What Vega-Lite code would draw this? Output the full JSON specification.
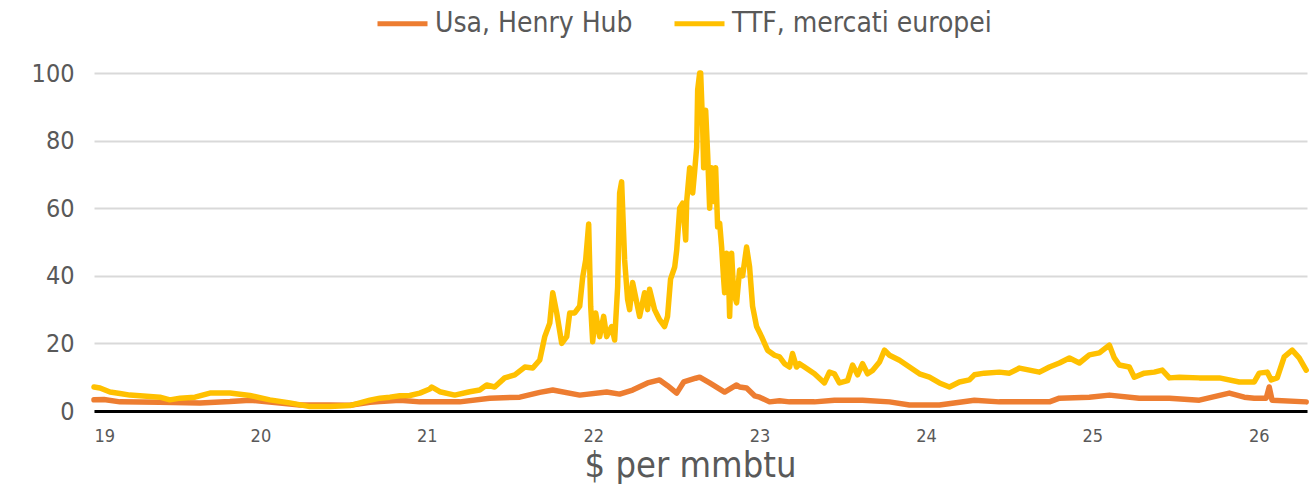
{
  "$schema": "https://vega.github.io/schema/vega-lite/v6.json",
  "width": 1213,
  "height": 338,
  "autosize": {"type": "none"},
  "padding": {"left": 94, "top": 73, "right": 2, "bottom": 79},
  "background": "white",
  "config": {"view": {"stroke": null}, "font": "DejaVu Sans Condensed, DejaVu Sans"},
  "data": {"values": [
    {"year": 19.000, "value": 3.3, "series": "Usa, Henry Hub"},
    {"year": 19.060, "value": 3.4, "series": "Usa, Henry Hub"},
    {"year": 19.156, "value": 2.7, "series": "Usa, Henry Hub"},
    {"year": 19.396, "value": 2.6, "series": "Usa, Henry Hub"},
    {"year": 19.637, "value": 2.4, "series": "Usa, Henry Hub"},
    {"year": 19.817, "value": 2.8, "series": "Usa, Henry Hub"},
    {"year": 19.937, "value": 3.2, "series": "Usa, Henry Hub"},
    {"year": 20.117, "value": 2.4, "series": "Usa, Henry Hub"},
    {"year": 20.237, "value": 1.8, "series": "Usa, Henry Hub"},
    {"year": 20.417, "value": 1.8, "series": "Usa, Henry Hub"},
    {"year": 20.538, "value": 1.7, "series": "Usa, Henry Hub"},
    {"year": 20.658, "value": 2.6, "series": "Usa, Henry Hub"},
    {"year": 20.718, "value": 2.8, "series": "Usa, Henry Hub"},
    {"year": 20.838, "value": 3.2, "series": "Usa, Henry Hub"},
    {"year": 20.958, "value": 2.7, "series": "Usa, Henry Hub"},
    {"year": 21.198, "value": 2.7, "series": "Usa, Henry Hub"},
    {"year": 21.378, "value": 3.8, "series": "Usa, Henry Hub"},
    {"year": 21.559, "value": 4.1, "series": "Usa, Henry Hub"},
    {"year": 21.679, "value": 5.5, "series": "Usa, Henry Hub"},
    {"year": 21.757, "value": 6.2, "series": "Usa, Henry Hub"},
    {"year": 21.919, "value": 4.7, "series": "Usa, Henry Hub"},
    {"year": 22.081, "value": 5.6, "series": "Usa, Henry Hub"},
    {"year": 22.159, "value": 5.0, "series": "Usa, Henry Hub"},
    {"year": 22.237, "value": 6.2, "series": "Usa, Henry Hub"},
    {"year": 22.327, "value": 8.3, "series": "Usa, Henry Hub"},
    {"year": 22.399, "value": 9.2, "series": "Usa, Henry Hub"},
    {"year": 22.447, "value": 7.5, "series": "Usa, Henry Hub"},
    {"year": 22.502, "value": 5.3, "series": "Usa, Henry Hub"},
    {"year": 22.544, "value": 8.6, "series": "Usa, Henry Hub"},
    {"year": 22.616, "value": 9.7, "series": "Usa, Henry Hub"},
    {"year": 22.640, "value": 10.0, "series": "Usa, Henry Hub"},
    {"year": 22.700, "value": 8.3, "series": "Usa, Henry Hub"},
    {"year": 22.790, "value": 5.6, "series": "Usa, Henry Hub"},
    {"year": 22.862, "value": 7.7, "series": "Usa, Henry Hub"},
    {"year": 22.880, "value": 7.1, "series": "Usa, Henry Hub"},
    {"year": 22.922, "value": 6.8, "series": "Usa, Henry Hub"},
    {"year": 22.970, "value": 4.5, "series": "Usa, Henry Hub"},
    {"year": 23.000, "value": 4.1, "series": "Usa, Henry Hub"},
    {"year": 23.060, "value": 2.7, "series": "Usa, Henry Hub"},
    {"year": 23.120, "value": 3.0, "series": "Usa, Henry Hub"},
    {"year": 23.180, "value": 2.7, "series": "Usa, Henry Hub"},
    {"year": 23.330, "value": 2.7, "series": "Usa, Henry Hub"},
    {"year": 23.450, "value": 3.2, "series": "Usa, Henry Hub"},
    {"year": 23.619, "value": 3.2, "series": "Usa, Henry Hub"},
    {"year": 23.781, "value": 2.7, "series": "Usa, Henry Hub"},
    {"year": 23.901, "value": 1.8, "series": "Usa, Henry Hub"},
    {"year": 24.081, "value": 1.8, "series": "Usa, Henry Hub"},
    {"year": 24.291, "value": 3.2, "series": "Usa, Henry Hub"},
    {"year": 24.441, "value": 2.7, "series": "Usa, Henry Hub"},
    {"year": 24.742, "value": 2.7, "series": "Usa, Henry Hub"},
    {"year": 24.802, "value": 3.8, "series": "Usa, Henry Hub"},
    {"year": 24.982, "value": 4.1, "series": "Usa, Henry Hub"},
    {"year": 25.102, "value": 4.7, "series": "Usa, Henry Hub"},
    {"year": 25.282, "value": 3.8, "series": "Usa, Henry Hub"},
    {"year": 25.463, "value": 3.8, "series": "Usa, Henry Hub"},
    {"year": 25.643, "value": 3.2, "series": "Usa, Henry Hub"},
    {"year": 25.823, "value": 5.3, "series": "Usa, Henry Hub"},
    {"year": 25.913, "value": 4.1, "series": "Usa, Henry Hub"},
    {"year": 25.973, "value": 3.8, "series": "Usa, Henry Hub"},
    {"year": 26.045, "value": 3.8, "series": "Usa, Henry Hub"},
    {"year": 26.063, "value": 7.1, "series": "Usa, Henry Hub"},
    {"year": 26.080, "value": 3.2, "series": "Usa, Henry Hub"},
    {"year": 26.285, "value": 2.7, "series": "Usa, Henry Hub"},

    {"year": 19.000, "value": 7.1, "series": "TTF, mercati europei"},
    {"year": 19.036, "value": 6.8, "series": "TTF, mercati europei"},
    {"year": 19.096, "value": 5.6, "series": "TTF, mercati europei"},
    {"year": 19.156, "value": 5.2, "series": "TTF, mercati europei"},
    {"year": 19.216, "value": 4.7, "series": "TTF, mercati europei"},
    {"year": 19.276, "value": 4.5, "series": "TTF, mercati europei"},
    {"year": 19.396, "value": 4.1, "series": "TTF, mercati europei"},
    {"year": 19.456, "value": 3.3, "series": "TTF, mercati europei"},
    {"year": 19.517, "value": 3.8, "series": "TTF, mercati europei"},
    {"year": 19.607, "value": 4.1, "series": "TTF, mercati europei"},
    {"year": 19.697, "value": 5.3, "series": "TTF, mercati europei"},
    {"year": 19.817, "value": 5.3, "series": "TTF, mercati europei"},
    {"year": 19.937, "value": 4.6, "series": "TTF, mercati europei"},
    {"year": 20.057, "value": 3.3, "series": "TTF, mercati europei"},
    {"year": 20.177, "value": 2.4, "series": "TTF, mercati europei"},
    {"year": 20.297, "value": 1.3, "series": "TTF, mercati europei"},
    {"year": 20.417, "value": 1.3, "series": "TTF, mercati europei"},
    {"year": 20.538, "value": 1.6, "series": "TTF, mercati europei"},
    {"year": 20.658, "value": 3.2, "series": "TTF, mercati europei"},
    {"year": 20.718, "value": 3.8, "series": "TTF, mercati europei"},
    {"year": 20.778, "value": 4.1, "series": "TTF, mercati europei"},
    {"year": 20.838, "value": 4.5, "series": "TTF, mercati europei"},
    {"year": 20.898, "value": 4.6, "series": "TTF, mercati europei"},
    {"year": 20.958, "value": 5.3, "series": "TTF, mercati europei"},
    {"year": 21.018, "value": 6.5, "series": "TTF, mercati europei"},
    {"year": 21.030, "value": 7.1, "series": "TTF, mercati europei"},
    {"year": 21.078, "value": 5.7, "series": "TTF, mercati europei"},
    {"year": 21.168, "value": 4.7, "series": "TTF, mercati europei"},
    {"year": 21.258, "value": 5.7, "series": "TTF, mercati europei"},
    {"year": 21.318, "value": 6.2, "series": "TTF, mercati europei"},
    {"year": 21.360, "value": 7.7, "series": "TTF, mercati europei"},
    {"year": 21.408, "value": 7.1, "series": "TTF, mercati europei"},
    {"year": 21.468, "value": 9.8, "series": "TTF, mercati europei"},
    {"year": 21.529, "value": 10.7, "series": "TTF, mercati europei"},
    {"year": 21.589, "value": 13, "series": "TTF, mercati europei"},
    {"year": 21.637, "value": 12.7, "series": "TTF, mercati europei"},
    {"year": 21.679, "value": 15.1, "series": "TTF, mercati europei"},
    {"year": 21.709, "value": 22, "series": "TTF, mercati europei"},
    {"year": 21.739, "value": 26, "series": "TTF, mercati europei"},
    {"year": 21.757, "value": 35, "series": "TTF, mercati europei"},
    {"year": 21.781, "value": 29, "series": "TTF, mercati europei"},
    {"year": 21.811, "value": 20, "series": "TTF, mercati europei"},
    {"year": 21.841, "value": 22, "series": "TTF, mercati europei"},
    {"year": 21.859, "value": 29, "series": "TTF, mercati europei"},
    {"year": 21.889, "value": 29, "series": "TTF, mercati europei"},
    {"year": 21.919, "value": 31, "series": "TTF, mercati europei"},
    {"year": 21.937, "value": 39.6, "series": "TTF, mercati europei"},
    {"year": 21.955, "value": 44.7, "series": "TTF, mercati europei"},
    {"year": 21.973, "value": 55.3, "series": "TTF, mercati europei"},
    {"year": 21.985, "value": 31, "series": "TTF, mercati europei"},
    {"year": 21.997, "value": 20.5, "series": "TTF, mercati europei"},
    {"year": 22.015, "value": 29, "series": "TTF, mercati europei"},
    {"year": 22.039, "value": 22, "series": "TTF, mercati europei"},
    {"year": 22.063, "value": 28, "series": "TTF, mercati europei"},
    {"year": 22.081, "value": 22, "series": "TTF, mercati europei"},
    {"year": 22.111, "value": 25, "series": "TTF, mercati europei"},
    {"year": 22.129, "value": 21, "series": "TTF, mercati europei"},
    {"year": 22.147, "value": 36.7, "series": "TTF, mercati europei"},
    {"year": 22.159, "value": 64.5, "series": "TTF, mercati europei"},
    {"year": 22.171, "value": 67.8, "series": "TTF, mercati europei"},
    {"year": 22.189, "value": 44.7, "series": "TTF, mercati europei"},
    {"year": 22.207, "value": 33, "series": "TTF, mercati europei"},
    {"year": 22.219, "value": 30, "series": "TTF, mercati europei"},
    {"year": 22.237, "value": 38, "series": "TTF, mercati europei"},
    {"year": 22.279, "value": 28, "series": "TTF, mercati europei"},
    {"year": 22.309, "value": 35, "series": "TTF, mercati europei"},
    {"year": 22.327, "value": 30, "series": "TTF, mercati europei"},
    {"year": 22.339, "value": 36, "series": "TTF, mercati europei"},
    {"year": 22.369, "value": 30, "series": "TTF, mercati europei"},
    {"year": 22.399, "value": 27, "series": "TTF, mercati europei"},
    {"year": 22.429, "value": 25, "series": "TTF, mercati europei"},
    {"year": 22.447, "value": 28, "series": "TTF, mercati europei"},
    {"year": 22.465, "value": 39, "series": "TTF, mercati europei"},
    {"year": 22.490, "value": 42.6, "series": "TTF, mercati europei"},
    {"year": 22.502, "value": 47.6, "series": "TTF, mercati europei"},
    {"year": 22.520, "value": 60, "series": "TTF, mercati europei"},
    {"year": 22.538, "value": 61.5, "series": "TTF, mercati europei"},
    {"year": 22.556, "value": 50.6, "series": "TTF, mercati europei"},
    {"year": 22.562, "value": 62, "series": "TTF, mercati europei"},
    {"year": 22.580, "value": 72, "series": "TTF, mercati europei"},
    {"year": 22.598, "value": 64.5, "series": "TTF, mercati europei"},
    {"year": 22.610, "value": 71, "series": "TTF, mercati europei"},
    {"year": 22.622, "value": 78, "series": "TTF, mercati europei"},
    {"year": 22.628, "value": 95, "series": "TTF, mercati europei"},
    {"year": 22.640, "value": 100, "series": "TTF, mercati europei"},
    {"year": 22.646, "value": 100, "series": "TTF, mercati europei"},
    {"year": 22.658, "value": 84, "series": "TTF, mercati europei"},
    {"year": 22.664, "value": 72, "series": "TTF, mercati europei"},
    {"year": 22.676, "value": 89, "series": "TTF, mercati europei"},
    {"year": 22.688, "value": 76, "series": "TTF, mercati europei"},
    {"year": 22.700, "value": 60, "series": "TTF, mercati europei"},
    {"year": 22.712, "value": 72, "series": "TTF, mercati europei"},
    {"year": 22.724, "value": 62, "series": "TTF, mercati europei"},
    {"year": 22.736, "value": 72, "series": "TTF, mercati europei"},
    {"year": 22.748, "value": 54.5, "series": "TTF, mercati europei"},
    {"year": 22.760, "value": 55.6, "series": "TTF, mercati europei"},
    {"year": 22.772, "value": 48.5, "series": "TTF, mercati europei"},
    {"year": 22.784, "value": 39, "series": "TTF, mercati europei"},
    {"year": 22.790, "value": 35, "series": "TTF, mercati europei"},
    {"year": 22.802, "value": 46.7, "series": "TTF, mercati europei"},
    {"year": 22.814, "value": 39, "series": "TTF, mercati europei"},
    {"year": 22.820, "value": 28, "series": "TTF, mercati europei"},
    {"year": 22.832, "value": 46.7, "series": "TTF, mercati europei"},
    {"year": 22.844, "value": 35, "series": "TTF, mercati europei"},
    {"year": 22.862, "value": 32, "series": "TTF, mercati europei"},
    {"year": 22.880, "value": 41.7, "series": "TTF, mercati europei"},
    {"year": 22.898, "value": 40, "series": "TTF, mercati europei"},
    {"year": 22.922, "value": 48.5, "series": "TTF, mercati europei"},
    {"year": 22.940, "value": 42.6, "series": "TTF, mercati europei"},
    {"year": 22.958, "value": 31, "series": "TTF, mercati europei"},
    {"year": 22.982, "value": 25, "series": "TTF, mercati europei"},
    {"year": 23.012, "value": 22, "series": "TTF, mercati europei"},
    {"year": 23.048, "value": 18, "series": "TTF, mercati europei"},
    {"year": 23.090, "value": 16.5, "series": "TTF, mercati europei"},
    {"year": 23.120, "value": 16, "series": "TTF, mercati europei"},
    {"year": 23.150, "value": 14, "series": "TTF, mercati europei"},
    {"year": 23.180, "value": 13, "series": "TTF, mercati europei"},
    {"year": 23.198, "value": 17, "series": "TTF, mercati europei"},
    {"year": 23.222, "value": 13, "series": "TTF, mercati europei"},
    {"year": 23.240, "value": 14, "series": "TTF, mercati europei"},
    {"year": 23.270, "value": 13, "series": "TTF, mercati europei"},
    {"year": 23.330, "value": 11, "series": "TTF, mercati europei"},
    {"year": 23.390, "value": 8.3, "series": "TTF, mercati europei"},
    {"year": 23.420, "value": 11.5, "series": "TTF, mercati europei"},
    {"year": 23.450, "value": 11, "series": "TTF, mercati europei"},
    {"year": 23.480, "value": 8.3, "series": "TTF, mercati europei"},
    {"year": 23.529, "value": 9, "series": "TTF, mercati europei"},
    {"year": 23.559, "value": 13.6, "series": "TTF, mercati europei"},
    {"year": 23.589, "value": 10.7, "series": "TTF, mercati europei"},
    {"year": 23.619, "value": 14, "series": "TTF, mercati europei"},
    {"year": 23.649, "value": 11, "series": "TTF, mercati europei"},
    {"year": 23.679, "value": 12, "series": "TTF, mercati europei"},
    {"year": 23.721, "value": 14.5, "series": "TTF, mercati europei"},
    {"year": 23.751, "value": 18, "series": "TTF, mercati europei"},
    {"year": 23.781, "value": 16.5, "series": "TTF, mercati europei"},
    {"year": 23.841, "value": 15, "series": "TTF, mercati europei"},
    {"year": 23.901, "value": 13, "series": "TTF, mercati europei"},
    {"year": 23.961, "value": 11, "series": "TTF, mercati europei"},
    {"year": 24.021, "value": 10, "series": "TTF, mercati europei"},
    {"year": 24.081, "value": 8.3, "series": "TTF, mercati europei"},
    {"year": 24.141, "value": 7.1, "series": "TTF, mercati europei"},
    {"year": 24.201, "value": 8.6, "series": "TTF, mercati europei"},
    {"year": 24.261, "value": 9.2, "series": "TTF, mercati europei"},
    {"year": 24.291, "value": 10.7, "series": "TTF, mercati europei"},
    {"year": 24.351, "value": 11.2, "series": "TTF, mercati europei"},
    {"year": 24.441, "value": 11.5, "series": "TTF, mercati europei"},
    {"year": 24.502, "value": 11.2, "series": "TTF, mercati europei"},
    {"year": 24.562, "value": 12.7, "series": "TTF, mercati europei"},
    {"year": 24.622, "value": 12.1, "series": "TTF, mercati europei"},
    {"year": 24.682, "value": 11.5, "series": "TTF, mercati europei"},
    {"year": 24.742, "value": 13, "series": "TTF, mercati europei"},
    {"year": 24.802, "value": 14.2, "series": "TTF, mercati europei"},
    {"year": 24.862, "value": 15.7, "series": "TTF, mercati europei"},
    {"year": 24.922, "value": 14.2, "series": "TTF, mercati europei"},
    {"year": 24.982, "value": 16.6, "series": "TTF, mercati europei"},
    {"year": 25.042, "value": 17.2, "series": "TTF, mercati europei"},
    {"year": 25.102, "value": 19.5, "series": "TTF, mercati europei"},
    {"year": 25.132, "value": 15.7, "series": "TTF, mercati europei"},
    {"year": 25.162, "value": 13.6, "series": "TTF, mercati europei"},
    {"year": 25.222, "value": 13, "series": "TTF, mercati europei"},
    {"year": 25.252, "value": 10, "series": "TTF, mercati europei"},
    {"year": 25.312, "value": 11.2, "series": "TTF, mercati europei"},
    {"year": 25.372, "value": 11.5, "series": "TTF, mercati europei"},
    {"year": 25.420, "value": 12.1, "series": "TTF, mercati europei"},
    {"year": 25.463, "value": 9.8, "series": "TTF, mercati europei"},
    {"year": 25.523, "value": 10, "series": "TTF, mercati europei"},
    {"year": 25.643, "value": 9.8, "series": "TTF, mercati europei"},
    {"year": 25.763, "value": 9.8, "series": "TTF, mercati europei"},
    {"year": 25.883, "value": 8.6, "series": "TTF, mercati europei"},
    {"year": 25.973, "value": 8.6, "series": "TTF, mercati europei"},
    {"year": 26.003, "value": 11.2, "series": "TTF, mercati europei"},
    {"year": 26.051, "value": 11.5, "series": "TTF, mercati europei"},
    {"year": 26.075, "value": 9.2, "series": "TTF, mercati europei"},
    {"year": 26.111, "value": 9.8, "series": "TTF, mercati europei"},
    {"year": 26.153, "value": 16, "series": "TTF, mercati europei"},
    {"year": 26.201, "value": 18, "series": "TTF, mercati europei"},
    {"year": 26.243, "value": 15.7, "series": "TTF, mercati europei"},
    {"year": 26.285, "value": 12.1, "series": "TTF, mercati europei"}
  ]},
  "mark": {"type": "line", "strokeWidth": 5.5, "strokeJoin": "round", "strokeCap": "round"},
  "encoding": {
    "x": {
      "field": "year", "type": "quantitative",
      "scale": {"domain": [19, 26.29], "nice": false, "zero": false},
      "axis": {
        "values": [19, 20, 21, 22, 23, 24, 25, 26], "format": "d",
        "grid": false, "ticks": false,
        "domainColor": "#000000", "domainWidth": 3,
        "labelFontSize": 18, "labelColor": "#595959", "labelPadding": 16,
        "title": "$ per mmbtu", "titleFontSize": 36, "titleColor": "#595959",
        "titleFontWeight": "normal", "titlePadding": 3, "titleX": 596, "titleAlign": "center"
      }
    },
    "y": {
      "field": "value", "type": "quantitative",
      "scale": {"domain": [0, 100], "nice": false},
      "axis": {
        "values": [0, 20, 40, 60, 80, 100],
        "grid": true, "gridColor": "#d9d9d9", "gridWidth": 2,
        "domain": false, "ticks": false,
        "labelFontSize": 25, "labelColor": "#595959", "labelPadding": 20,
        "title": null
      }
    },
    "color": {
      "field": "series", "type": "nominal",
      "scale": {"domain": ["Usa, Henry Hub", "TTF, mercati europei"], "range": ["#ED7D31", "#FFC000"]},
      "legend": {
        "title": null, "orient": "none", "direction": "horizontal",
        "legendX": 281, "legendY": -77,
        "symbolType": "stroke", "symbolSize": 2500, "symbolStrokeWidth": 5,
        "labelFontSize": 28, "labelColor": "#595959", "labelOffset": 5, "labelLimit": 500,
        "columnPadding": 31, "symbolOpacity": 1
      }
    },
    "order": {"field": "year", "type": "quantitative"}
  }
}
